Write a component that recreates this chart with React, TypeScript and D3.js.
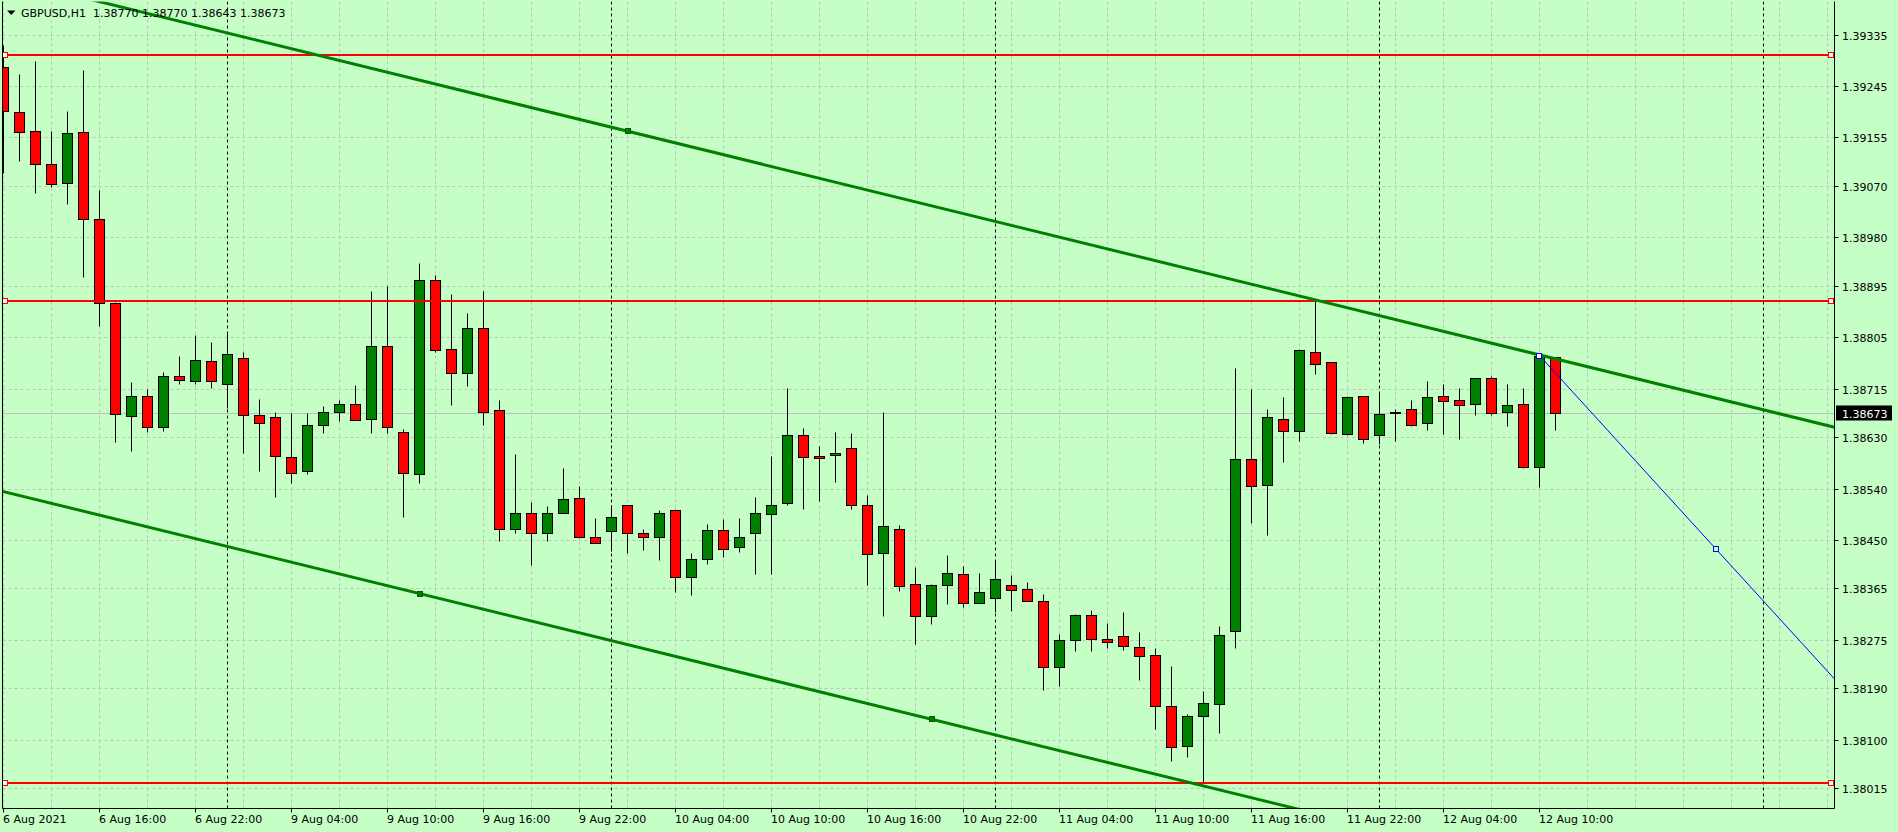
import React from 'react';
import * as d3 from 'd3';

// Hourly GBPUSD bars, index 0 = 6 Aug 2021 10:00 (weekend gap after index 13)
const opens = [
  1.39278, 1.39199, 1.39166, 1.39108, 1.39075, 1.39164, 1.39012, 1.38865, 1.38667, 1.38702,
  1.38647, 1.38737, 1.38728, 1.38763, 1.38724, 1.38768, 1.38668, 1.38665, 1.38595, 1.38571,
  1.38651, 1.38674, 1.38689, 1.38661, 1.38789, 1.38639, 1.38565, 1.38905, 1.38784, 1.38742,
  1.38822, 1.38677, 1.38469, 1.38497, 1.38463, 1.38498, 1.38523, 1.38455, 1.38465, 1.38512,
  1.38462, 1.38455, 1.38502, 1.38385, 1.38416, 1.38467, 1.38437, 1.38462, 1.38495, 1.38514,
  1.38633, 1.38597, 1.38598, 1.38611, 1.38511, 1.38427, 1.38470, 1.38372, 1.38316, 1.38371,
  1.38390, 1.38339, 1.38348, 1.38371, 1.38364, 1.38343, 1.38227, 1.38274, 1.38318, 1.38276,
  1.38281, 1.38262, 1.38248, 1.38159, 1.38089, 1.38141, 1.38162, 1.38290, 1.38591, 1.38546,
  1.38661, 1.38640, 1.38780, 1.38761, 1.38635, 1.38702, 1.38633, 1.38672, 1.38679, 1.38654,
  1.38702, 1.38695, 1.38688, 1.38733, 1.38674, 1.38689, 1.38577, 1.38770,
];
const highs = [
  1.39317, 1.39266, 1.39289, 1.39166, 1.39201, 1.39273, 1.39063, 1.38867, 1.38727, 1.38715,
  1.38744, 1.38772, 1.38809, 1.38797, 1.38814, 1.38779, 1.38697, 1.38674, 1.38672, 1.38672,
  1.38685, 1.38695, 1.38721, 1.38886, 1.38895, 1.38644, 1.38935, 1.38914, 1.38881, 1.38848,
  1.38886, 1.38696, 1.38601, 1.38516, 1.38510, 1.38576, 1.38545, 1.38489, 1.38511, 1.38512,
  1.38469, 1.38502, 1.38504, 1.38427, 1.38478, 1.38487, 1.38489, 1.38525, 1.38597, 1.38716,
  1.38646, 1.38614, 1.38639, 1.38637, 1.38529, 1.38674, 1.38476, 1.38403, 1.38372, 1.38424,
  1.38404, 1.38392, 1.38414, 1.38389, 1.38376, 1.38355, 1.38285, 1.38320, 1.38327, 1.38304,
  1.38323, 1.38288, 1.38261, 1.38229, 1.38146, 1.38185, 1.38299, 1.38751, 1.38714, 1.38679,
  1.38700, 1.38784, 1.38868, 1.38761, 1.38703, 1.38702, 1.38709, 1.38679, 1.38695, 1.38728,
  1.38724, 1.38717, 1.38733, 1.38738, 1.38724, 1.38716, 1.38773, 1.38770,
];
const lows = [
  1.39092, 1.39114, 1.39058, 1.39069, 1.39038, 1.38911, 1.38824, 1.38622, 1.38605, 1.38639,
  1.38640, 1.38723, 1.38723, 1.38717, 1.38682, 1.38603, 1.38570, 1.38525, 1.38550, 1.38565,
  1.38638, 1.38659, 1.38660, 1.38638, 1.38638, 1.38491, 1.38549, 1.38780, 1.38687, 1.38720,
  1.38652, 1.38449, 1.38463, 1.38406, 1.38449, 1.38497, 1.38453, 1.38444, 1.38431, 1.38428,
  1.38433, 1.38415, 1.38358, 1.38354, 1.38408, 1.38421, 1.38429, 1.38391, 1.38391, 1.38511,
  1.38505, 1.38519, 1.38552, 1.38504, 1.38371, 1.38317, 1.38361, 1.38268, 1.38302, 1.38338,
  1.38333, 1.38339, 1.38324, 1.38326, 1.38343, 1.38188, 1.38195, 1.38256, 1.38256, 1.38261,
  1.38258, 1.38204, 1.38118, 1.38063, 1.38070, 1.38024, 1.38111, 1.38260, 1.38480, 1.38459,
  1.38587, 1.38624, 1.38740, 1.38635, 1.38633, 1.38620, 1.38618, 1.38624, 1.38650, 1.38643,
  1.38636, 1.38627, 1.38668, 1.38668, 1.38650, 1.38576, 1.38542, 1.38643,
];
const closes = [
  1.39201, 1.39164, 1.39108, 1.39073, 1.39162, 1.39013, 1.38865, 1.38670, 1.38702, 1.38647,
  1.38737, 1.38730, 1.38765, 1.38728, 1.38775, 1.38668, 1.38654, 1.38597, 1.38567, 1.38651,
  1.38674, 1.38689, 1.38660, 1.38789, 1.38647, 1.38567, 1.38905, 1.38782, 1.38742, 1.38822,
  1.38675, 1.38470, 1.38497, 1.38463, 1.38498, 1.38521, 1.38455, 1.38444, 1.38491, 1.38462,
  1.38456, 1.38497, 1.38385, 1.38416, 1.38467, 1.38435, 1.38456, 1.38497, 1.38512, 1.38633,
  1.38595, 1.38593, 1.38602, 1.38512, 1.38425, 1.38474, 1.38369, 1.38316, 1.38371, 1.38392,
  1.38339, 1.38358, 1.38381, 1.38362, 1.38343, 1.38227, 1.38274, 1.38318, 1.38276, 1.38272,
  1.38264, 1.38246, 1.38160, 1.38087, 1.38141, 1.38164, 1.38283, 1.38591, 1.38544, 1.38665,
  1.38640, 1.38782, 1.38759, 1.38637, 1.38700, 1.38626, 1.38670, 1.38675, 1.38652, 1.38700,
  1.38693, 1.38686, 1.38733, 1.38672, 1.38686, 1.38577, 1.38772, 1.38673,
];

const symbolLabel = 'GBPUSD,H1';
const headerPrices = ['1.38770', '1.38770', '1.38643', '1.38673'];
const currentPrice = 1.38673;

const priceTicks = [
  1.39335, 1.39245, 1.39155, 1.3907, 1.3898, 1.38895, 1.38805, 1.38715,
  1.3863, 1.3854, 1.3845, 1.38365, 1.38275, 1.3819, 1.381, 1.38015,
];
const timeTickIndex = [0, 6, 12, 18, 24, 30, 36, 42, 48, 54, 60, 66, 72, 78, 84, 90, 96];
const timeTickLabels = [
  '6 Aug 2021', '6 Aug 16:00', '6 Aug 22:00', '9 Aug 04:00', '9 Aug 10:00', '9 Aug 16:00',
  '9 Aug 22:00', '10 Aug 04:00', '10 Aug 10:00', '10 Aug 16:00', '10 Aug 22:00',
  '11 Aug 04:00', '11 Aug 10:00', '11 Aug 16:00', '11 Aug 22:00', '12 Aug 04:00', '12 Aug 10:00',
];
const daySeparatorIndex = [14, 38, 62, 86, 110];
const lastSlot = 114;

const horizontalLevels = [1.39299, 1.38869, 1.38025];
// equidistant channel: two anchors on the lower line, one on the upper line
const channelLowIdx = [26, 58];
const channelLowPrice = [1.38356, 1.38136];
const channelUpIdx = 39;
const channelUpPrice = 1.39166;
// blue trend line anchors
const blueIdx = [96, 107];
const bluePrice = [1.38773, 1.38435];

const BG = '#c6ffc6';
const FONT = '"DejaVu Sans", Verdana, sans-serif';

export default function App() {
  React.useEffect(() => {
    document.body.style.margin = '0';
    document.body.style.overflow = 'hidden';
  }, []);

  const W = 1898;
  const H = 832;
  const plot = { left: 2.5, right: 1834.5, top: 1.5, bottom: 808.5 };

  const x = d3.scaleLinear().domain([0, lastSlot]).range([3.5, 3.5 + 16 * lastSlot]);
  const y = d3.scaleLinear().domain([1.38015, 1.39335]).range([788.3, 34.7]);
  const py = (v: number) => Math.round(y(v)) + 0.5;
  const halfBody = 5;

  const slopeLow = (channelLowPrice[1] - channelLowPrice[0]) / (channelLowIdx[1] - channelLowIdx[0]);
  const lowAt = (i: number) => channelLowPrice[0] + (i - channelLowIdx[0]) * slopeLow;
  const upAt = (i: number) => channelUpPrice + (i - channelUpIdx) * slopeLow;
  const slopeBlue = (bluePrice[1] - bluePrice[0]) / (blueIdx[1] - blueIdx[0]);
  const blueAt = (i: number) => bluePrice[0] + (i - blueIdx[0]) * slopeBlue;

  const line = d3.line<[number, number]>().x((d) => x(d[0])).y((d) => y(d[1]));
  const ext = [-2, lastSlot + 2];

  const candles = opens.map((o, i) => ({ i, o, h: highs[i], l: lows[i], c: closes[i] }));

  const marker = (cx: number, cy: number, color: string, key: string, fill = '#ffffff') => (
    <rect key={key} x={Math.round(cx) - 2.5} y={Math.round(cy) - 2.5} width={5} height={5}
      fill={fill} stroke={color} strokeWidth={1} />
  );

  return (
    <svg width={W} height={H} style={{ position: 'absolute', left: 0, top: 0, display: 'block' }}
      fontFamily={FONT}>
      <defs>
        <clipPath id="plotClip">
          <rect x={plot.left} y={plot.top} width={plot.right - plot.left} height={plot.bottom - plot.top} />
        </clipPath>
      </defs>
      <rect x={0} y={0} width={W} height={H} fill={BG} />

      <g clipPath="url(#plotClip)">
        {/* horizontal grid */}
        {priceTicks.map((t) => (
          <line key={'hg' + t} x1={plot.left} x2={plot.right} y1={py(t)} y2={py(t)}
            stroke="#c0c0c0" strokeDasharray="3,3" />
        ))}
        {/* vertical grid */}
        {d3.range(0, lastSlot + 1, 3).map((i) => (
          <line key={'vg' + i} x1={x(i)} x2={x(i)} y1={plot.top} y2={plot.bottom}
            stroke="#c0c0c0" strokeDasharray="3,3" />
        ))}
        {/* day separators */}
        {daySeparatorIndex.map((i) => (
          <line key={'ds' + i} x1={x(i)} x2={x(i)} y1={plot.top} y2={plot.bottom}
            stroke="#000000" strokeDasharray="3,3" />
        ))}
        {/* current price line */}
        <line x1={plot.left} x2={plot.right} y1={py(currentPrice)} y2={py(currentPrice)} stroke="#c0c0c0" />

        {/* candles */}
        {candles.map((d) => {
          const cx = x(d.i);
          const top = py(Math.max(d.o, d.c));
          const bot = py(Math.min(d.o, d.c));
          const bull = d.c >= d.o;
          return (
            <g key={'c' + d.i}>
              <line x1={cx} x2={cx} y1={py(d.h)} y2={py(d.l)} stroke="#000000" />
              <rect x={cx - halfBody} y={top} width={halfBody * 2} height={Math.max(bot - top, 1)}
                fill={bull ? '#008000' : '#ff0000'} stroke="#000000" strokeWidth={1} />
            </g>
          );
        })}

        {/* horizontal red levels */}
        {horizontalLevels.map((v) => (
          <g key={'hl' + v}>
            <line x1={plot.left} x2={plot.right} y1={Math.round(y(v))} y2={Math.round(y(v))}
              stroke="#ff0000" strokeWidth={2} />
            {marker(5, y(v), '#ff0000', 'hlm1' + v)}
            {marker(1831, y(v), '#ff0000', 'hlm2' + v)}
          </g>
        ))}

        {/* channel */}
        <path d={line(ext.map((i) => [i, upAt(i)] as [number, number])) || ''} fill="none"
          stroke="#008000" strokeWidth={3} />
        <path d={line(ext.map((i) => [i, lowAt(i)] as [number, number])) || ''} fill="none"
          stroke="#008000" strokeWidth={3} />
        {marker(x(channelLowIdx[0]), y(channelLowPrice[0]), '#006000', 'cm1', '#008000')}
        {marker(x(channelLowIdx[1]), y(channelLowPrice[1]), '#006000', 'cm2', '#008000')}
        {marker(x(channelUpIdx), y(channelUpPrice), '#006000', 'cm3', '#008000')}

        {/* blue trend line */}
        <path d={line([blueIdx[0], lastSlot + 2].map((i) => [i, blueAt(i)] as [number, number])) || ''}
          fill="none" stroke="#0000ff" strokeWidth={1} />
        {marker(x(blueIdx[0]), y(bluePrice[0]), '#0000ff', 'bm1')}
        {marker(x(blueIdx[1]), y(bluePrice[1]), '#0000ff', 'bm2', BG)}
      </g>

      {/* frame */}
      <line x1={plot.left} x2={plot.left} y1={plot.top} y2={plot.bottom} stroke="#000" />
      <line x1={plot.right} x2={plot.right} y1={plot.top} y2={plot.bottom} stroke="#000" />
      <line x1={plot.left} x2={plot.right} y1={plot.bottom} y2={plot.bottom} stroke="#000" />

      {/* price axis */}
      {priceTicks.map((t) => (
        <g key={'pt' + t}>
          <line x1={plot.right} x2={plot.right + 4} y1={py(t)} y2={py(t)} stroke="#000" />
          <text x={1842} y={py(t) + 4} fontSize={11} fill="#000">{t.toFixed(5)}</text>
        </g>
      ))}
      <rect x={1836} y={py(currentPrice) - 8} width={56} height={15} fill="#000" />
      <text x={1842} y={py(currentPrice) + 4} fontSize={11} fill="#fff">{currentPrice.toFixed(5)}</text>

      {/* time axis */}
      {timeTickIndex.map((i, k) => (
        <g key={'tt' + i}>
          <line x1={x(i)} x2={x(i)} y1={plot.bottom} y2={plot.bottom + 4} stroke="#000" />
          <text x={x(i) - 0.5} y={823} fontSize={11} fill="#000">{timeTickLabels[k]}</text>
        </g>
      ))}

      {/* header */}
      <path d="M7,10.5 L15.5,10.5 L11.25,15 Z" fill="#000" />
      <text x={21} y={17} fontSize={11} fill="#000">{symbolLabel}</text>
      <text x={93} y={17} fontSize={11} fill="#000">{headerPrices.join(' ')}</text>
    </svg>
  );
}
